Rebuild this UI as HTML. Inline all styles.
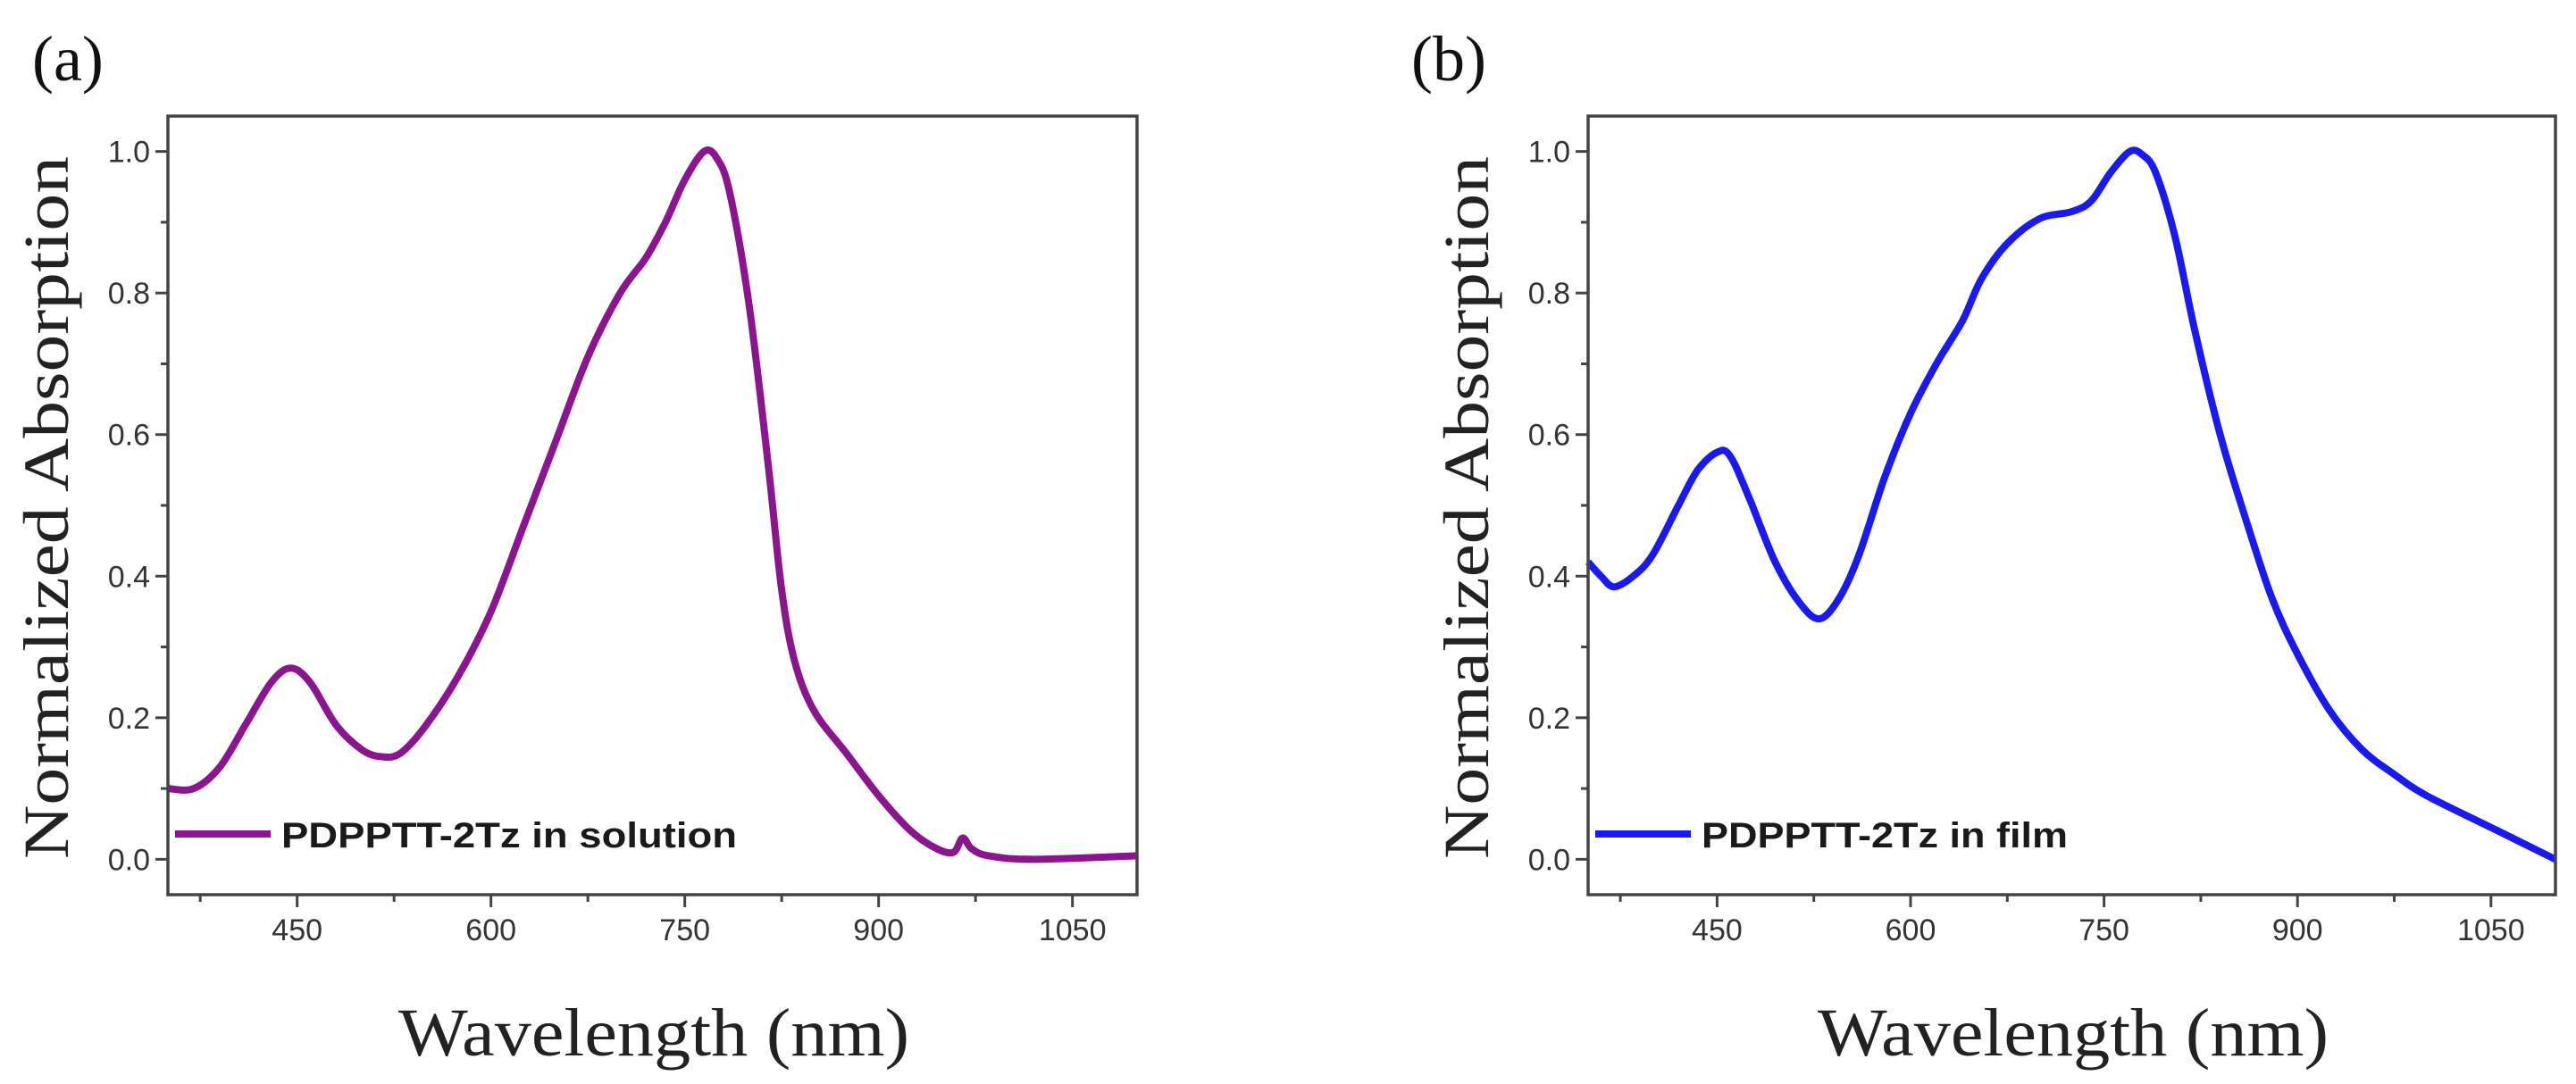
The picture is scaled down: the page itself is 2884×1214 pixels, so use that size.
<!DOCTYPE html>
<html><head><meta charset="utf-8"><style>html,body{margin:0;padding:0;background:#fff}svg{display:block}</style></head>
<body>
<svg id="fig" width="2884" height="1214" viewBox="0 0 2884 1214" xmlns="http://www.w3.org/2000/svg">
<rect width="2884" height="1214" fill="#fff"/>
</svg>
<script>
const xTicks = [450, 600, 750, 900, 1050];
const xMinor = [375, 525, 675, 825, 975];
const yTicks = [0.0, 0.2, 0.4, 0.6, 0.8, 1.0];
const yMinor = [0.1, 0.3, 0.5, 0.7, 0.9];
const solWl = [350,370,390,410,430,445,460,480,500,515,530,550,575,600,625,650,675,700,720,735,750,765,775,785,800,815,825,835,850,875,900,925,945,958,965,972,985,1020,1100];
const solAbs = [0.10,0.10,0.13,0.19,0.25,0.27,0.25,0.19,0.155,0.145,0.15,0.19,0.26,0.35,0.47,0.59,0.71,0.80,0.85,0.90,0.96,1.0,0.99,0.94,0.78,0.55,0.38,0.28,0.21,0.15,0.09,0.04,0.015,0.01,0.03,0.015,0.005,0.0,0.005];
const filmWl = [350,360,370,385,400,420,435,450,460,475,495,515,530,545,560,580,600,620,640,655,675,700,725,740,755,770,780,790,805,820,840,860,880,900,925,950,975,1000,1050,1100];
const filmAbs = [0.42,0.40,0.385,0.40,0.43,0.50,0.55,0.575,0.57,0.51,0.42,0.36,0.34,0.37,0.43,0.54,0.63,0.70,0.76,0.82,0.87,0.905,0.915,0.93,0.97,1.0,0.995,0.97,0.88,0.75,0.60,0.48,0.37,0.29,0.21,0.155,0.12,0.09,0.045,0.0];

const NS = 'http://www.w3.org/2000/svg';
const svg = document.getElementById('fig');
function mk(tag, attrs, parent) {
  const e = document.createElementNS(NS, tag);
  for (const k in attrs) e.setAttribute(k, attrs[k]);
  (parent || svg).appendChild(e);
  return e;
}
function smooth(pts) {
  let d = 'M' + pts[0][0].toFixed(1) + ',' + pts[0][1].toFixed(1);
  for (let i = 0; i < pts.length - 1; i++) {
    const p0 = pts[Math.max(0, i - 1)], p1 = pts[i], p2 = pts[i + 1], p3 = pts[Math.min(pts.length - 1, i + 2)];
    const c1x = p1[0] + (p2[0] - p0[0]) / 6, c1y = p1[1] + (p2[1] - p0[1]) / 6;
    const c2x = p2[0] - (p3[0] - p1[0]) / 6, c2y = p2[1] - (p3[1] - p1[1]) / 6;
    d += ' C' + c1x.toFixed(1) + ',' + c1y.toFixed(1) + ' ' + c2x.toFixed(1) + ',' + c2y.toFixed(1) + ' ' + p2[0].toFixed(1) + ',' + p2[1].toFixed(1);
  }
  return d;
}
function panel(cfg) {
  const g = mk('g', {});
  
  
  const L = cfg.left, R = cfg.right, T = 130, B = 1002;
  const X = v => L + (v - 350) / (1100 - 350) * (R - L);
  const Y = v => B - (v + 0.05) / 1.1 * (B - T);
  const lab = mk('text', {x: cfg.labX, y: 90, 'font-family': 'Liberation Serif, serif', 'font-size': 72, fill: '#111'}, g);
  lab.textContent = cfg.label;
  
  
  xTicks.forEach(v => {
    const t = mk('line', {x1: X(v), x2: X(v), y1: B, y2: B + 14, stroke: '#444', 'stroke-width': 3}, g);
    
    
    const tx = mk('text', {x: X(v), y: 1053, 'text-anchor': 'middle', 'font-family': 'Liberation Sans, sans-serif', 'font-size': 34, fill: '#333'}, g);
    tx.textContent = v;
    
    
  });
  xMinor.forEach(v => {
    const t = mk('line', {x1: X(v), x2: X(v), y1: B, y2: B + 8, stroke: '#444', 'stroke-width': 3}, g);
    
    
  });
  yTicks.forEach(v => {
    const t = mk('line', {x1: L - 14, x2: L, y1: Y(v), y2: Y(v), stroke: '#444', 'stroke-width': 3}, g);
    
    
    const tx = mk('text', {x: L - 20, y: Y(v) + 12, 'text-anchor': 'end', 'font-family': 'Liberation Sans, sans-serif', 'font-size': 34, fill: '#333'}, g);
    tx.textContent = v.toFixed(1);
    
    
  });
  yMinor.forEach(v => {
    const t = mk('line', {x1: L - 8, x2: L, y1: Y(v), y2: Y(v), stroke: '#444', 'stroke-width': 3}, g);
    
    
  });
  const pts = cfg.wl.map((w, i) => [X(w), Y(cfg.abs[i])]);
  const c = mk('path', {d: smooth(pts), fill: 'none', stroke: cfg.color, 'stroke-width': 8, 'stroke-linejoin': 'round'}, g);
  
  
  const f = mk('rect', {x: L, y: T, width: R - L, height: B - T, fill: 'none', stroke: '#444', 'stroke-width': 3.5}, g);
  
  
  const lg = mk('g', {}, g);
  
  
  mk('line', {x1: L + 8, x2: L + 115, y1: 934, y2: 934, stroke: cfg.color, 'stroke-width': 8}, lg);
  const lt = mk('text', {x: L + 127, y: 949, 'font-family': 'Liberation Sans, sans-serif', 'font-weight': 'bold', 'font-size': 40, fill: '#1a1a1a', textLength: cfg.legLen, lengthAdjust: 'spacingAndGlyphs'}, lg);
  lt.textContent = cfg.legend;
  const xt = mk('text', {x: cfg.xtX, y: 1182, 'font-family': 'Liberation Serif, serif', 'font-size': 76, fill: '#222', textLength: 572, lengthAdjust: 'spacingAndGlyphs'}, g);
  xt.textContent = 'Wavelength (nm)';
  
  
  const yt = mk('text', {x: 0, y: 0, 'font-family': 'Liberation Serif, serif', 'font-size': 72, fill: '#222', textLength: 787, lengthAdjust: 'spacingAndGlyphs', transform: 'translate(' + cfg.ytX + ',962) rotate(-90)'}, g);
  yt.textContent = 'Normalized Absorption';
  
  
}
panel({name: 'panel-a-solution', left: 188, right: 1273, label: '(a)', labX: 36, wl: solWl, abs: solAbs, color: '#8b158f', seriesName: 'solution-curve', legend: 'PDPPTT-2Tz in solution', legLen: 510, xtX: 446, ytX: 76});
panel({name: 'panel-b-film', left: 1778, right: 2861, label: '(b)', labX: 1580, wl: filmWl, abs: filmAbs, color: '#1a1aee', seriesName: 'film-curve', legend: 'PDPPTT-2Tz in film', legLen: 410, xtX: 2035, ytX: 1666});
</script>
</body></html>
